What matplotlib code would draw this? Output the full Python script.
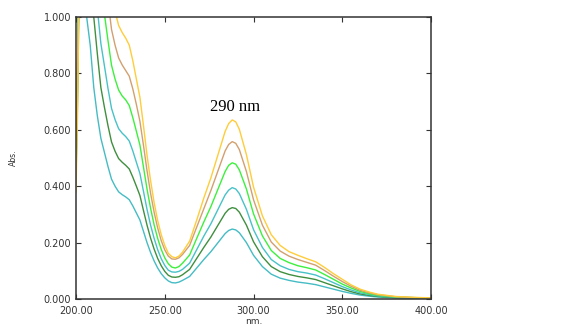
"""
UV-Vis absorbance spectra, six concentrations, peak at 290 nm.
Saves out.png (569x328).
"""
import matplotlib
matplotlib.use("Agg")
import matplotlib.pyplot as plt
from matplotlib.ticker import FormatStrFormatter

# wavelength grid (nm), shared by all spectra
wavelength = [200, 201, 202, 204, 206, 208, 210, 212, 214, 216, 218, 220, 222, 224, 226,
              228, 230, 232, 234, 236, 238, 240, 242, 244, 246, 248, 250, 252, 254, 256,
              258, 260, 264, 268, 272, 276, 280, 284, 286, 288, 290, 292, 296, 300, 305,
              310, 315, 320, 325, 330, 335, 340, 345, 350, 355, 360, 365, 370, 380, 390, 400]

abs_teal_low = [0.43, 0.75, 1.2, 1.3, 1.0, 0.9, 0.75, 0.65, 0.57, 0.52, 0.47, 0.425, 0.40, 0.38, 0.37,
                0.362, 0.352, 0.33, 0.305, 0.28, 0.24, 0.20, 0.165, 0.135, 0.11, 0.09, 0.075, 0.064, 0.058, 0.057,
                0.06, 0.066, 0.08, 0.11, 0.14, 0.168, 0.2, 0.232, 0.243, 0.248, 0.245, 0.235, 0.2, 0.155, 0.115,
                0.088, 0.074, 0.066, 0.06, 0.056, 0.051, 0.043, 0.035, 0.027, 0.02, 0.014, 0.01, 0.007, 0.004, 0.003, 0.002]

abs_dkgreen = [0.45, 0.8, 1.3, 1.4, 1.31, 1.18, 1.0, 0.87, 0.75, 0.68, 0.615, 0.557, 0.524, 0.498, 0.485,
               0.474, 0.461, 0.432, 0.40, 0.367, 0.314, 0.262, 0.216, 0.177, 0.144, 0.118, 0.098, 0.084, 0.078, 0.077,
               0.079, 0.086, 0.105, 0.144, 0.183, 0.22, 0.262, 0.304, 0.318, 0.324, 0.321, 0.308, 0.262, 0.203, 0.15,
               0.115, 0.097, 0.087, 0.08, 0.075, 0.069, 0.058, 0.047, 0.036, 0.026, 0.018, 0.013, 0.009, 0.005, 0.004, 0.003]

abs_teal_mid = [0.5, 0.85, 1.3, 1.5, 1.55, 1.43, 1.19, 1.03, 0.906, 0.827, 0.747, 0.676, 0.636, 0.604, 0.588,
                0.576, 0.56, 0.525, 0.485, 0.445, 0.382, 0.318, 0.262, 0.215, 0.175, 0.143, 0.119, 0.102, 0.096, 0.095,
                0.098, 0.105, 0.127, 0.175, 0.223, 0.267, 0.318, 0.369, 0.386, 0.395, 0.39, 0.374, 0.318, 0.246, 0.183,
                0.14, 0.118, 0.105, 0.097, 0.092, 0.085, 0.072, 0.058, 0.044, 0.032, 0.022, 0.016, 0.011, 0.006, 0.004, 0.003]

abs_green = [0.55, 0.9, 1.3, 1.6, 1.9, 1.75, 1.46, 1.27, 1.11, 1.01, 0.917, 0.829, 0.78, 0.741, 0.72,
             0.706, 0.686, 0.643, 0.595, 0.546, 0.468, 0.39, 0.322, 0.263, 0.215, 0.176, 0.146, 0.125, 0.113, 0.11,
             0.115, 0.127, 0.156, 0.215, 0.273, 0.328, 0.39, 0.452, 0.474, 0.483, 0.478, 0.458, 0.39, 0.302, 0.224,
             0.172, 0.144, 0.129, 0.118, 0.111, 0.103, 0.087, 0.07, 0.053, 0.039, 0.027, 0.019, 0.013, 0.007, 0.005, 0.003]

abs_tan = [0.55, 0.9, 1.3, 1.7, 2.0, 2.0, 1.69, 1.46, 1.28, 1.17, 1.06, 0.956, 0.9, 0.855, 0.83,
           0.81, 0.79, 0.745, 0.69, 0.63, 0.545, 0.455, 0.375, 0.308, 0.252, 0.207, 0.174, 0.152, 0.142, 0.141,
           0.146, 0.158, 0.19, 0.255, 0.32, 0.385, 0.455, 0.525, 0.548, 0.558, 0.552, 0.53, 0.452, 0.352, 0.262,
           0.202, 0.17, 0.152, 0.14, 0.13, 0.12, 0.101, 0.081, 0.062, 0.045, 0.031, 0.022, 0.015, 0.008, 0.005, 0.003]

abs_yellow = [0.38, 0.7, 1.3, 1.8, 2.2, 2.3, 1.92, 1.66, 1.46, 1.33, 1.2, 1.09, 1.02, 0.97, 0.945,
              0.925, 0.9, 0.845, 0.78, 0.715, 0.615, 0.51, 0.42, 0.342, 0.278, 0.228, 0.19, 0.162, 0.15, 0.146,
              0.152, 0.166, 0.205, 0.28, 0.358, 0.43, 0.512, 0.594, 0.622, 0.635, 0.628, 0.602, 0.512, 0.397, 0.295,
              0.228, 0.19, 0.168, 0.155, 0.143, 0.132, 0.112, 0.09, 0.07, 0.05, 0.035, 0.025, 0.017, 0.009, 0.006, 0.004]

spectra = [abs_teal_low, abs_dkgreen, abs_teal_mid, abs_green, abs_tan, abs_yellow]
colors = ["#45bcc4", "#3f8f3f", "#48c2c8", "#3cf03c", "#d2a070", "#ffcc3a"]

peak_label = "290 nm"

fig = plt.figure(figsize=(5.69, 3.28), dpi=100)
ax = fig.add_axes([0.1336, 0.0884, 0.6239, 0.8598])

for y, c in zip(spectra, colors):
    ax.plot(wavelength, y, color=c, lw=1.0)

ax.set_xlim(200, 400)
ax.set_ylim(0, 1.0)
ax.set_xticks([200, 250, 300, 350, 400])
ax.set_yticks([0.0, 0.2, 0.4, 0.6, 0.8, 1.0])
ax.xaxis.set_major_formatter(FormatStrFormatter("%.2f"))
ax.yaxis.set_major_formatter(FormatStrFormatter("%.3f"))
ax.tick_params(direction="in", length=3.5, width=0.8, color="#333333",
               top=True, right=True, labelsize=7, labelcolor="#333333")
ax.tick_params(axis="x", pad=5)
ax.tick_params(axis="y", pad=3.5)
for s in ax.spines.values():
    s.set_color("#333333")
    s.set_linewidth(1.1)

ax.set_xlabel("nm.", fontsize=6.5, color="#333333", labelpad=1)
ax.set_ylabel("Abs.", fontsize=5.5, color="#333333")
ax.yaxis.set_label_coords(-0.165, 0.5)

ax.text(289.6, 0.668, peak_label, ha="center", va="baseline",
        fontsize=12, family="Liberation Serif", color="black")

fig.savefig("out.png", dpi=100)
plt.close(fig)
